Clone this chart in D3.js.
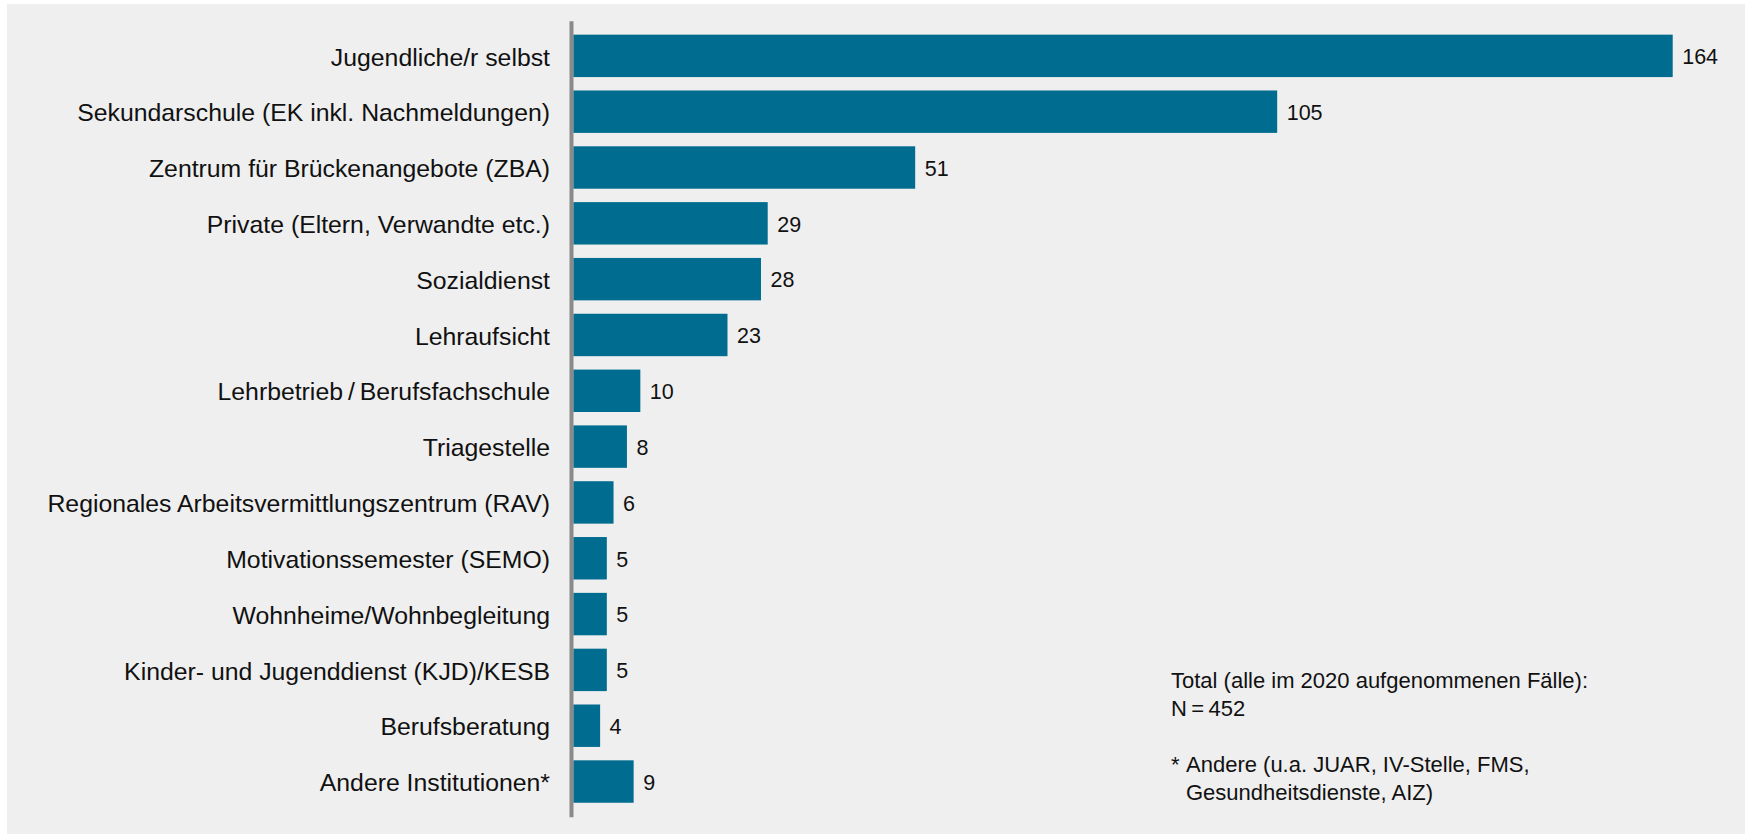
<!DOCTYPE html>
<html>
<head>
<meta charset="utf-8">
<script src="https://cdn.jsdelivr.net/npm/d3@7"></script>
<style>
  html, body { margin: 0; padding: 0; background: #ffffff; }
  svg { display: block; }
  text { font-family: "Liberation Sans", Arial, Helvetica, sans-serif; fill: #111; }
</style>
</head>
<body>
<svg id="chart" width="1748" height="834"></svg>
<script>
const categories = [
  "Jugendliche/r selbst",
  "Sekundarschule (EK inkl. Nachmeldungen)",
  "Zentrum für Brückenangebote (ZBA)",
  "Private (Eltern, Verwandte etc.)",
  "Sozialdienst",
  "Lehraufsicht",
  "Lehrbetrieb\u2009/\u2009Berufsfachschule",
  "Triagestelle",
  "Regionales Arbeitsvermittlungszentrum (RAV)",
  "Motivationssemester (SEMO)",
  "Wohnheime/Wohnbegleitung",
  "Kinder- und Jugenddienst (KJD)/KESB",
  "Berufsberatung",
  "Andere Institutionen*"
];
const values = [164, 105, 51, 29, 28, 23, 10, 8, 6, 5, 5, 5, 4, 9];
const noteLines = [
  "Total (alle im 2020 aufgenommenen Fälle):",
  "N\u2009=\u2009452"
];
const footnoteMarker = "*";
const footnoteLines = [
  "Andere (u.a. JUAR, IV-Stelle, FMS,",
  "Gesundheitsdienste, AIZ)"
];

const svg = d3.select("#chart");

// background panel
svg.append("rect")
  .attr("x", 7).attr("y", 4)
  .attr("width", 1738).attr("height", 830)
  .attr("fill", "#efefef");

const axisX = 571;
const x = d3.scaleLinear().domain([0, 164]).range([573.3, 1672.7]);
const y = d3.scaleBand()
  .domain(categories)
  .range([20.7, 816.7])
  .paddingInner(0.24)
  .paddingOuter(0.25);

const data = categories.map((c, i) => ({ cat: c, val: values[i] }));

// bars
svg.append("g").selectAll("rect")
  .data(data)
  .join("rect")
  .attr("x", x(0))
  .attr("y", d => y(d.cat))
  .attr("width", d => x(d.val) - x(0))
  .attr("height", y.bandwidth())
  .attr("fill", "#006c8f");

// value labels
svg.append("g").selectAll("text")
  .data(data)
  .join("text")
  .attr("x", d => x(d.val) + 9.5)
  .attr("y", d => y(d.cat) + y.bandwidth() / 2 + 8.3)
  .attr("font-size", "21.5px")
  .text(d => d.val);

// category axis
const axis = d3.axisLeft(y).tickSize(0).tickSizeOuter(0).tickPadding(21);
const gAxis = svg.append("g")
  .attr("transform", `translate(${axisX},0)`)
  .call(axis);
gAxis.select(".domain")
  .attr("stroke", "#8a8a8a")
  .attr("stroke-width", 4);
gAxis.selectAll(".tick text")
  .attr("font-size", "24.8px")
  .attr("font-family", "'Liberation Sans', Arial, sans-serif")
  .attr("fill", "#111")
  .attr("dy", "0.39em");

// notes
const notes = svg.append("g").attr("font-size", "22px");
notes.selectAll("text.note")
  .data(noteLines)
  .join("text")
  .attr("class", "note")
  .attr("x", 1171)
  .attr("y", (d, i) => 687.7 + i * 28)
  .text(d => d);

notes.append("text")
  .attr("x", 1171)
  .attr("y", 771.7)
  .text(footnoteMarker);
notes.selectAll("text.foot")
  .data(footnoteLines)
  .join("text")
  .attr("class", "foot")
  .attr("x", 1186)
  .attr("y", (d, i) => 771.7 + i * 28.3)
  .text(d => d);
</script>
</body>
</html>
